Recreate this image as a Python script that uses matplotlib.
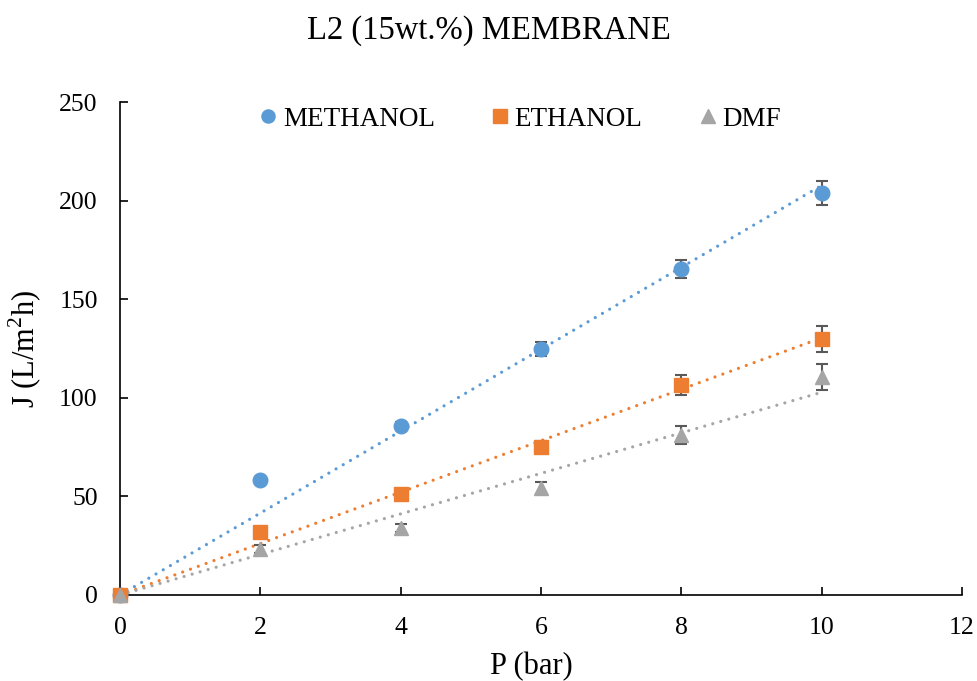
import matplotlib.pyplot as plt
import numpy as np

plt.rcParams['font.family'] = ['Liberation Serif', 'DejaVu Serif']
plt.rcParams['mathtext.fontset'] = 'custom'
plt.rcParams['mathtext.rm'] = 'Liberation Serif'

P = [0, 2, 4, 6, 8, 10]
methanol = [0, 58.3, 85.7, 124.7, 165.3, 203.9]
methanol_err = [0, 0, 2, 3.5, 4.5, 6]
ethanol = [0, 32, 51.2, 75, 106.5, 129.8]
ethanol_err = [0, 2, 2, 3, 5, 6.5]
dmf = [0, 23.3, 34, 54.3, 81, 110.5]
dmf_err = [0, 2, 2, 3, 4.5, 6.5]

SERIES = [
    ("METHANOL", methanol, methanol_err, "#5B9BD5", "o"),
    ("ETHANOL", ethanol, ethanol_err, "#ED7D31", "s"),
    ("DMF", dmf, dmf_err, "#A5A5A5", "^"),
]


def main():
    fig = plt.figure(figsize=(9.78, 6.81), dpi=100)
    ax = fig.add_axes([0.1227, 0.1263, 0.8609, 0.7239])
    x = np.array(P, dtype=float)

    for name, y, err, color, marker in SERIES:
        y = np.array(y)
        # linear trendline forced through the origin
        slope = np.sum(x * y) / np.sum(x * x)
        xs = np.linspace(0, 10, 50)
        ax.plot(xs, slope * xs, color=color, linestyle=(0, (0.01, 2.6)),
                linewidth=2.3, dash_capstyle='round', zorder=2)
        ax.errorbar(x, y, yerr=err, fmt='none', ecolor='#595959',
                    elinewidth=1.5, capsize=4.5, capthick=1.5, zorder=3)
        ax.plot(x, y, linestyle='none', marker=marker, markersize=10.5,
                color=color, label=name, zorder=4, clip_on=False)

    ax.set_xlim(0, 12)
    ax.set_ylim(0, 250)
    ax.set_xticks(range(0, 13, 2))
    ax.set_yticks(range(0, 251, 50))
    ax.spines['top'].set_visible(False)
    ax.spines['right'].set_visible(False)
    for s in ('left', 'bottom'):
        ax.spines[s].set_linewidth(1.2)
    ax.tick_params(direction='in', length=6, width=1.2, labelsize=18.5, pad=16)

    ax.set_xlabel('P (bar)', fontsize=22, labelpad=9, x=0.488)
    ax.set_ylabel('J (L/m$^2$h)', fontsize=22, labelpad=11)
    fig.suptitle('L2 (15wt.%) MEMBRANE', fontsize=23.5, y=0.978)

    ax.legend(loc='center left', bbox_to_anchor=(0.166, 0.965), ncol=3,
              frameon=False, fontsize=19.5, handlelength=0.6, handletextpad=0.25,
              columnspacing=2.1, markerscale=0.9, borderpad=0, borderaxespad=0)

    plt.savefig('out.png', dpi=100)


if __name__ == "__main__":
    main()
